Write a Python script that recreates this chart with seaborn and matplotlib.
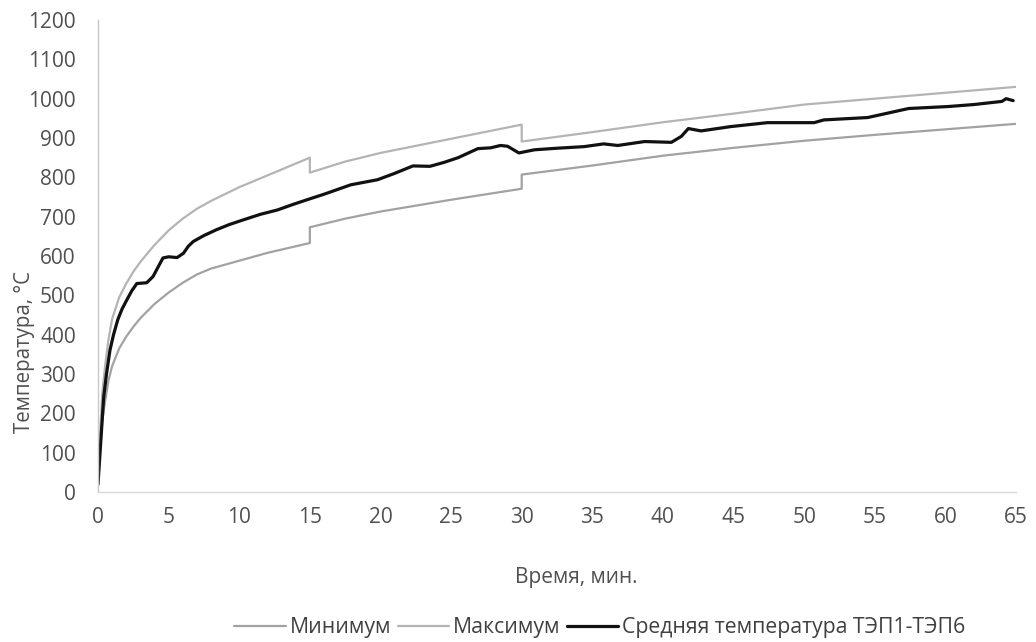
import matplotlib
matplotlib.use("Agg")
import matplotlib.pyplot as plt
import seaborn as sns
import pandas as pd

# Time points (min) for the limit curves (duplicates = steps)
t_lim = [0, 0.15, 0.3, 0.5, 0.75, 1, 1.5, 2, 2.5, 3, 4, 5, 6, 7, 8, 10, 12, 15, 15,
         17.5, 20, 25, 30, 30, 35, 40, 45, 50, 55, 60, 65]
t_max = [23, 150, 250, 320, 390, 440, 495, 530, 560, 585, 628, 665, 695, 720, 740, 775, 805, 850, 812,
         840, 862, 898, 934, 891, 915, 940, 962, 985, 1000, 1015, 1030]
t_min = [17, 110, 180, 230, 285, 320, 365, 395, 420, 442, 478, 507, 532, 553, 568, 588, 608, 633, 673,
         695, 713, 743, 771, 807, 830, 855, 875, 893, 908, 922, 936]

# Mean temperature TEP1-TEP6
t_mean = [0, 0.2, 0.4, 0.6, 0.85, 1.1, 1.4, 1.7, 2.05, 2.4, 2.75, 3.1, 3.45, 3.9, 4.3, 4.6, 5.0, 5.6,
          6.05, 6.4, 6.75, 7.5, 8.4, 9.3, 10.3, 11.5, 12.7, 13.8, 14.8, 16, 17.9, 19.8, 21, 22.3, 23.5,
          24.5, 25.5, 26.9, 27.8, 28.5, 29.0, 29.8, 30.9, 32.5, 34.4, 35.8, 36.8, 38.7, 40.6, 41.3, 41.8,
          42.7, 44.8, 47.4, 50.7, 51.4, 54.5, 57.4, 60.2, 62, 64.0, 64.3, 64.8]
v_mean = [20, 130, 240, 300, 361, 400, 438, 465, 489, 512, 530, 531, 532, 548, 575, 595, 598, 596,
          607, 625, 637, 652, 667, 680, 692, 706, 717, 731, 743, 757, 781, 794, 810, 829, 828,
          838, 850, 873, 875, 881, 879, 862, 870, 874, 878, 885, 881, 891, 889, 904, 924,
          918, 929, 939, 939, 946, 952, 975, 980, 985, 993, 1000, 995]

x_ticks = list(range(0, 70, 5))
y_ticks = list(range(0, 1300, 100))

labels = ["Минимум", "Максимум", "Средняя температура ТЭП1-ТЭП6"]

sns.set_theme(style="white")
plt.rcParams['font.family'] = ['Open Sans', 'DejaVu Sans']

W, H = 1036, 642
fig = plt.figure(figsize=(W / 100, H / 100), dpi=100)
ax = fig.add_axes([98 / W, 1 - 492 / H, 918 / W, 472 / H])

df_min = pd.DataFrame({"t": t_lim, "v": t_min})
df_max = pd.DataFrame({"t": t_lim, "v": t_max})
df_mean = pd.DataFrame({"t": t_mean, "v": v_mean})

sns.lineplot(data=df_min, x="t", y="v", ax=ax, sort=False, estimator=None,
             color="#a2a2a2", linewidth=1.6, label=labels[0])
sns.lineplot(data=df_max, x="t", y="v", ax=ax, sort=False, estimator=None,
             color="#b4b4b4", linewidth=1.6, label=labels[1])
sns.lineplot(data=df_mean, x="t", y="v", ax=ax, sort=False, estimator=None,
             color="#111111", linewidth=2.3, label=labels[2])

ax.set_xlim(0, 65)
ax.set_ylim(0, 1200)
ax.set_xticks(x_ticks)
ax.set_yticks(y_ticks)
ax.tick_params(axis='both', length=0, labelsize=15, colors="#505050")
ax.tick_params(axis='x', pad=11)
ax.tick_params(axis='y', pad=16)

for s in ["top", "right"]:
    ax.spines[s].set_visible(False)
ax.spines["left"].set_color("#c8c8c8")
ax.spines["bottom"].set_color("#d8d8d8")
ax.spines["left"].set_linewidth(1.0)
ax.spines["bottom"].set_linewidth(1.0)

# Axis titles, sized to the reference extents
renderer = fig.canvas.get_renderer()
xl = fig.text(576 / W, 1 - 578 / H, "Время, мин.", ha="center", va="center",
              fontsize=14, color="#505050")
w = xl.get_window_extent(renderer).width
xl.set_fontsize(14 * 123 / w)

yl = fig.text(25 / W, 1 - 352 / H, "Температура, °С", ha="center", va="center",
              rotation=90, fontsize=14, color="#505050")
h = yl.get_window_extent(renderer).height
yl.set_fontsize(14 * 163 / h)
ax.set_xlabel("")
ax.set_ylabel("")

def make_legend(fs):
    lg = ax.legend(loc="center", bbox_to_anchor=(600 / W, 1 - 628 / H),
                   bbox_transform=fig.transFigure, ncol=3, frameon=False,
                   fontsize=fs, handlelength=2.4, handletextpad=0.2,
                   columnspacing=0.3, borderpad=0, borderaxespad=0)
    for txt in lg.get_texts():
        txt.set_color("#404040")
    return lg

leg = make_legend(14)
lw = leg.get_window_extent(renderer).width
leg = make_legend(14 * 734 / lw)

fig.savefig("out.png", dpi=100, facecolor="white")
